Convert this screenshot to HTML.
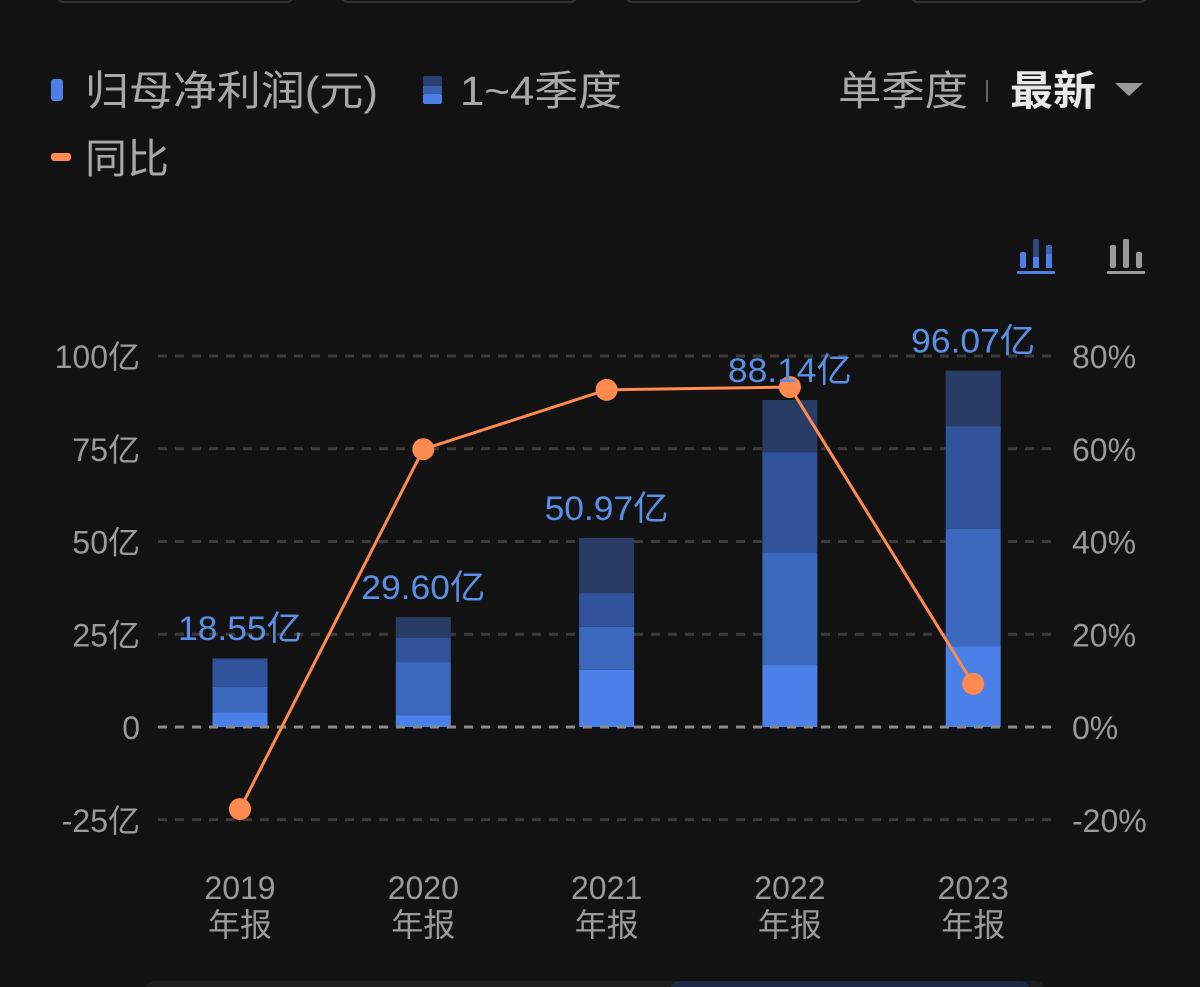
<!DOCTYPE html>
<html><head><meta charset="utf-8">
<style>
html,body{margin:0;padding:0;background:#121212;width:1200px;height:987px;overflow:hidden}
svg{display:block}
text{font-family:"Liberation Sans","Noto Sans CJK SC",sans-serif}
</style></head>
<body>
<svg id="chart" width="1200" height="987" viewBox="0 0 1200 987">
<g fill="none" stroke="#333" stroke-width="2">
<rect x="56" y="-20" width="238" height="22" rx="8"/>
<rect x="340" y="-20" width="238" height="22" rx="8"/>
<rect x="625" y="-20" width="238" height="22" rx="8"/>
<rect x="910" y="-20" width="238" height="22" rx="8"/>
</g>
<g>
<g>
<rect x="51" y="79" width="12" height="22" rx="3" fill="#4a80e8"/>
<text x="85" y="105" font-size="41" fill="#a8a8a8" textLength="293" lengthAdjust="spacingAndGlyphs">归母净利润(元)</text></g>
<g>
<rect x="423" y="76" width="19" height="10" rx="2" fill="#2a4170"/>
<rect x="423" y="86" width="19" height="8" fill="#3a5fa8"/>
<rect x="423" y="94" width="19" height="10" rx="2" fill="#4a80e8"/>
<text x="460" y="105" font-size="41" fill="#a8a8a8" textLength="162" lengthAdjust="spacingAndGlyphs">1~4季度</text></g>
<g>
<rect x="51" y="153" width="20" height="8" rx="3" fill="#ff8a4f"/>
<text x="85" y="173" font-size="41" fill="#a8a8a8" textLength="84" lengthAdjust="spacingAndGlyphs">同比</text></g>
</g>
<g>
<text x="838" y="105" font-size="41" fill="#a8a8a8" textLength="130" lengthAdjust="spacingAndGlyphs">单季度</text>
<rect x="986" y="80" width="2" height="22" fill="#666"/>
<text x="1010" y="105" font-size="41" font-weight="bold" fill="#e8e8e8" textLength="86" lengthAdjust="spacingAndGlyphs">最新</text>
<polygon points="1115,83 1143,83 1129,96" fill="#999"/>
</g>
<g>
<rect x="1020" y="252" width="6" height="16" rx="2" fill="#4a80e8"/>
<rect x="1033" y="239" width="6" height="29" rx="2" fill="#2e4a85"/>
<rect x="1033" y="257" width="6" height="11" fill="#4a80e8"/>
<rect x="1046" y="245" width="6" height="23" rx="2" fill="#3a64b8"/>
<rect x="1046" y="254" width="6" height="14" fill="#4a80e8"/>
<rect x="1017" y="271" width="38" height="3" rx="1" fill="#4a80e8"/>
</g>
<g fill="#999">
<rect x="1110" y="245" width="6" height="23" rx="2"/>
<rect x="1123" y="239" width="6" height="29" rx="2"/>
<rect x="1136" y="252" width="6" height="16" rx="2"/>
<rect x="1107" y="271" width="38" height="3" rx="1"/>
</g>
<g id="grid"></g>
<g id="bars"></g>
<g id="zero"></g>
<g id="line"></g>
<g id="labels"></g>
<g id="axes"></g>
<g>
<rect x="145" y="981" width="900" height="20" rx="10" fill="#1e1e1e"/>
<rect x="670" y="981" width="360" height="20" rx="10" fill="#1d2a45"/>
</g>
</svg>
<script>
const categories=["2019","2020","2021","2022","2023"];
const q1=[4.0,3.2,15.4,16.7,21.8];
const q2=[6.8,14.3,11.6,30.2,31.6];
const q3=[7.5,6.5,9.1,27.2,27.7];
const totals=[18.55,29.60,50.97,88.14,96.07];
const yoy=[-17.7,59.9,72.7,73.3,9.3];
const leftTicks=[100,75,50,25,0,-25];
const rightTicks=[80,60,40,20,0,-20];
const totalLabels=["18.55亿","29.60亿","50.97亿","88.14亿","96.07亿"];
const NS="http://www.w3.org/2000/svg";
const y0=727, yL=v=>y0-v*3.71, yR=v=>y0-v*4.6375;
const xC=i=>240+i*183.3;
function mk(tag,attrs,parent){const e=document.createElementNS(NS,tag);for(const k in attrs)e.setAttribute(k,attrs[k]);parent.appendChild(e);return e;}
const grid=document.getElementById('grid'),bars=document.getElementById('bars'),line=document.getElementById('line'),labels=document.getElementById('labels'),axes=document.getElementById('axes'),zero=document.getElementById('zero');
leftTicks.forEach((t,i)=>{
  const y=yL(t);
  if(t!==0){const g=mk('line',{x1:158,x2:1055,y1:y,y2:y,stroke:'#3c3c3c','stroke-width':3,'stroke-dasharray':'9 8'},grid);
  
  }
  const tl=mk('text',{x:140,y:y+12,'font-size':32,fill:'#9a9a9a','text-anchor':'end'},axes);tl.textContent=t===0?'0':t+'亿';
  
  
  const tr=mk('text',{x:1072,y:yR(rightTicks[i])+12,'font-size':32,fill:'#9a9a9a'},axes);tr.textContent=rightTicks[i]+'%';
  
  
});
const zl=mk('line',{x1:158,x2:1055,y1:y0,y2:y0,stroke:'#8a8a8a','stroke-width':3,'stroke-dasharray':'9 8'},zero);


const cols=['#4a80e8','#3b67bd','#31539c','#283c66'];
categories.forEach((c,i)=>{
  const segs=[q1[i],q2[i],q3[i],totals[i]-q1[i]-q2[i]-q3[i]];
  let cum=0;
  segs.forEach((s,j)=>{
    const r=mk('rect',{x:xC(i)-27.5,y:yL(cum+s),width:55,height:Math.max(0,yL(cum)-yL(cum+s)),fill:cols[j]},bars);
    
    
    cum+=s;
  });
  const lb=mk('text',{x:xC(i),y:yL(totals[i])-18,'font-size':34,fill:'#5b8fe6','text-anchor':'middle',textLength:124,lengthAdjust:'spacingAndGlyphs'},labels);lb.textContent=totalLabels[i];
  
  
  const a=mk('text',{x:xC(i),y:899,'font-size':32,fill:'#9a9a9a','text-anchor':'middle'},axes);a.textContent=c;
  
  
  const b=mk('text',{x:xC(i),y:936,'font-size':32,fill:'#9a9a9a','text-anchor':'middle'},axes);b.textContent='年报';
  
  
});
const pl=mk('polyline',{points:yoy.map((v,i)=>xC(i)+','+yR(v)).join(' '),fill:'none',stroke:'#ff8a4f','stroke-width':3},line);


yoy.forEach((v,i)=>{
  const d=mk('circle',{cx:xC(i),cy:yR(v),r:11,fill:'#ff8a4f'},line);
  
  
});
</script>
</body></html>
